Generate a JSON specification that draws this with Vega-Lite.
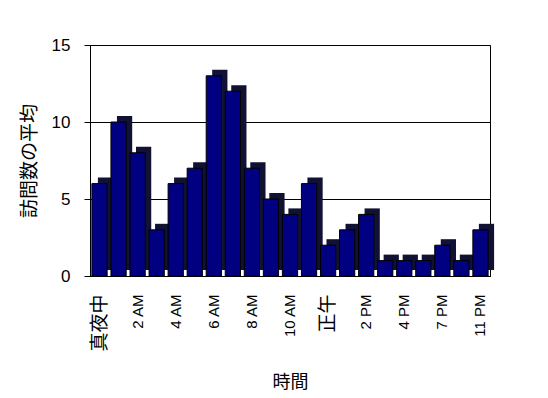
{
  "$schema": "https://vega.github.io/schema/vega-lite/v6.json",
  "autosize": "none",
  "width": 400,
  "height": 231,
  "padding": {"left": 90, "top": 45, "right": 58, "bottom": 122},
  "background": "white",
  "config": {
    "font": "Liberation Sans",
    "view": {"stroke": "black", "strokeWidth": 1}
  },
  "data": {
    "values": [
      {"hour": "真夜中", "order": 0, "visits": 6},
      {"hour": "1 AM", "order": 1, "visits": 10},
      {"hour": "2 AM", "order": 2, "visits": 8},
      {"hour": "3 AM", "order": 3, "visits": 3},
      {"hour": "4 AM", "order": 4, "visits": 6},
      {"hour": "5 AM", "order": 5, "visits": 7},
      {"hour": "6 AM", "order": 6, "visits": 13},
      {"hour": "7 AM", "order": 7, "visits": 12},
      {"hour": "8 AM", "order": 8, "visits": 7},
      {"hour": "9 AM", "order": 9, "visits": 5},
      {"hour": "10 AM", "order": 10, "visits": 4},
      {"hour": "11 AM", "order": 11, "visits": 6},
      {"hour": "正午", "order": 12, "visits": 2},
      {"hour": "1 PM", "order": 13, "visits": 3},
      {"hour": "2 PM", "order": 14, "visits": 4},
      {"hour": "3 PM", "order": 15, "visits": 1},
      {"hour": "4 PM", "order": 16, "visits": 1},
      {"hour": "5 PM", "order": 17, "visits": 1},
      {"hour": "7 PM", "order": 19, "visits": 2},
      {"hour": "9 PM", "order": 21, "visits": 1},
      {"hour": "11 PM", "order": 23, "visits": 3}
    ]
  },
  "encoding": {
    "x": {
      "field": "hour",
      "type": "nominal",
      "sort": {"field": "order"},
      "scale": {"paddingInner": 0.2, "paddingOuter": 0.1},
      "axis": {
        "title": "時間",
        "titleFont": "Noto Sans CJK JP",
        "titleFontSize": 18,
        "titleFontWeight": "normal",
        "titleColor": "black",
        "titlePadding": 22,
        "values": ["真夜中", "2 AM", "4 AM", "6 AM", "8 AM", "10 AM", "正午", "2 PM", "4 PM", "7 PM", "11 PM"],
        "labelAngle": -90,
        "labelAlign": "right",
        "labelBaseline": "middle",
        "labelFont": "Liberation Sans, Noto Sans CJK JP",
        "labelFontSize": {"expr": "datum.label == '真夜中' || datum.label == '正午' ? 19 : 15"},
        "labelFontWeight": "normal",
        "labelColor": "black",
        "labelPadding": 18,
        "domainColor": "black",
        "ticks": false,
        "grid": false
      }
    },
    "y": {
      "field": "visits",
      "type": "quantitative",
      "scale": {"domain": [0, 15], "nice": false},
      "axis": {
        "title": "訪問数の平均",
        "titleFont": "Noto Sans CJK JP",
        "titleFontSize": 19,
        "titleFontWeight": "normal",
        "titleColor": "black",
        "titlePadding": 12,
        "values": [0, 5, 10, 15],
        "labelFontSize": 17,
        "labelFontWeight": "normal",
        "labelColor": "black",
        "labelPadding": 14,
        "tickColor": "black",
        "tickSize": 6,
        "domainColor": "black",
        "grid": true,
        "gridColor": "black",
        "gridOpacity": 1
      }
    }
  },
  "layer": [
    {
      "mark": {"type": "bar", "color": "#111133", "xOffset": 6, "yOffset": -6}
    },
    {
      "mark": {"type": "bar", "color": "#000080", "stroke": "black", "strokeWidth": 1}
    }
  ]
}
